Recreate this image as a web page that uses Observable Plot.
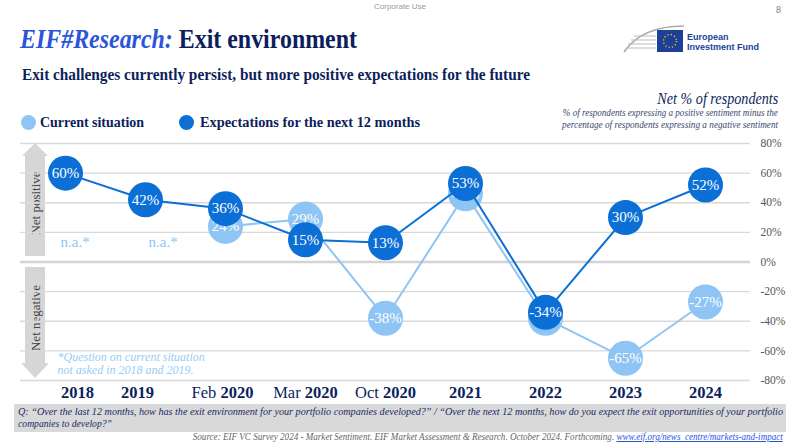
<!DOCTYPE html>
<html>
<head>
<meta charset="utf-8">
<script src="https://cdn.jsdelivr.net/npm/d3@7"></script>
<script src="https://cdn.jsdelivr.net/npm/@observablehq/plot@0.6"></script>
<style>
  html, body { margin: 0; padding: 0; background: #fff; }
  body { width: 800px; height: 448px; position: relative; overflow: hidden; font-family: "Liberation Serif"; color: #0c1f5c; }
  .abs { position: absolute; }
  .t { position: absolute; white-space: nowrap; display: inline-block; transform-origin: left top; }
  .r { transform-origin: right top; }
  #corp { left: 0; width: 800px; top: 2px; text-align: center; font-family: "Liberation Sans"; font-size: 8px; color: #999; }
  #page { left: 776px; top: 5px; font-size: 10px; line-height: 10px; color: #777; }
  #title { left: 20px; top: 26px; font-size: 27px; line-height: 27px; font-weight: bold; }
  #title .a { font-style: italic; color: #2b55d9; }
  #subtitle { left: 22px; top: 66px; font-size: 17.5px; line-height: 17.5px; font-weight: bold; }
  .leg { top: 114px; font-size: 15.5px; line-height: 15.5px; font-weight: bold; }
  .sw { position: absolute; width: 15px; height: 15px; border-radius: 50%; top: 115px; }
  #netTitle { right: 22px; top: 90px; font-size: 17px; line-height: 17px; font-style: italic; }
  .netSub { right: 22px; font-size: 10.5px; line-height: 10.5px; font-style: italic; color: #3a4670; }
  #chart { left: 0; top: 130px; }
  #qbg { left: 14px; top: 404px; width: 772px; height: 28px; background: #d9d9d9; }
  .q { left: 18px; font-size: 11px; line-height: 11px; font-style: italic; color: #1a2a66; }
  #source { right: 17px; top: 432px; font-size: 10px; line-height: 10px; font-style: italic; color: #666; }
  #source a { color: #2b55d9; text-decoration: underline; }
</style>
</head>
<body>
<div id="corp" class="abs">Corporate Use</div>
<div id="page" class="abs">8</div>
<span id="title" class="t" data-w="337"><span class="a">EIF#Research:</span> <span>Exit environment</span></span>
<span id="subtitle" class="t" data-w="508">Exit challenges currently persist, but more positive expectations for the future</span>
<svg class="abs" style="left:620px;top:22px" width="150" height="36" viewBox="0 0 150 36">
  <path d="M4 30 Q 22 4 64 4" fill="none" stroke="#aaa" stroke-width="1.6"/>
  <g stroke="#bbb" stroke-width="1">
    <line x1="14" y1="14" x2="36" y2="14"/><line x1="11" y1="18" x2="36" y2="18"/>
    <line x1="8" y1="22" x2="36" y2="22"/><line x1="6" y1="26" x2="36" y2="26"/>
  </g>
  <rect x="37" y="8" width="26" height="22" fill="#1c3f99"/>
  <circle cx="50" cy="19" r="6.5" fill="none" stroke="#f5d000" stroke-width="1.4" stroke-dasharray="1.2 2.2"/>
  <text x="67" y="18" font-family="Liberation Sans" font-size="9" font-weight="bold" fill="#1c3f99">European</text>
  <text x="67" y="28" font-family="Liberation Sans" font-size="9" font-weight="bold" fill="#1c3f99">Investment Fund</text>
</svg>
<span class="sw" style="left:21px;background:#8ec5f4"></span>
<span class="t leg" style="left:40px" data-w="104">Current situation</span>
<span class="sw" style="left:179px;background:#0b6fd6"></span>
<span class="t leg" style="left:200px" data-w="220">Expectations for the next 12 months</span>
<span id="netTitle" class="t r" data-w="121">Net % of respondents</span>
<span class="t r netSub" style="top:108px" data-w="215">% of respondents expressing a positive sentiment minus the</span>
<span class="t r netSub" style="top:119.5px" data-w="216">percentage of respondents expressing a negative sentiment</span>
<svg class="abs" style="left:18px;top:140px" width="36" height="242">
  <polygon points="17,3 30,16 27,16 27,116 7,116 7,16 4,16" fill="#d6d6d6"/>
  <polygon points="17,238 31,223 27,223 27,127 7,127 7,223 3,223" fill="#d6d6d6"/>
  <text transform="translate(21.5,63) rotate(-90)" text-anchor="middle" font-family="Liberation Serif" font-size="13" fill="#444">Net positive</text>
  <text transform="translate(21.5,178) rotate(-90)" text-anchor="middle" font-family="Liberation Serif" font-size="13" fill="#444">Net negative</text>
</svg>
<div id="chart" class="abs"></div>
<div id="qbg" class="abs"></div>
<span class="t q" style="top:405.5px" data-w="765">Q: “Over the last 12 months, how has the exit environment for your portfolio companies developed?” / “Over the next 12 months, how do you expect the exit opportunities of your portfolio</span>
<span class="t q" style="top:418px" data-w="94">companies to develop?”</span>
<span id="source" class="t r" data-w="590">Source: EIF VC Survey 2024 - Market Sentiment. EIF Market Assessment &amp; Research. October 2024. Forthcoming. <a>www.eif.org/news_centre/markets-and-impact</a></span>
<script>
const categories = ["2018", "2019", "Feb 2020", "Mar 2020", "Oct 2020", "2021", "2022", "2023", "2024"];
const expectations = [60, 42, 36, 15, 13, 53, -34, 30, 52];
const current = [null, null, 24, 29, -38, 46, -38, -65, -27];
const yTicks = [-80, -60, -40, -20, 0, 20, 40, 60, 80];
const naCategories = ["2018", "2019"];

const darkBlue = "#0b6fd6";
const lightBlue = "#8ec5f4";

const expData = categories.map((c, i) => ({cat: c, v: expectations[i]}));
const curData = categories.map((c, i) => ({cat: c, v: current[i]})).filter(d => d.v != null);
const fmt = v => v + "%";

// fit HTML text spans to measured widths
document.querySelectorAll(".t[data-w]").forEach(el => {
  const w = el.getBoundingClientRect().width;
  const target = +el.dataset.w;
  if (w > 0) el.style.transform = `scaleX(${target / w})`;
});

const chart = Plot.plot({
  width: 800,
  height: 278,
  marginTop: 13,
  marginBottom: 28,
  marginLeft: 20,
  marginRight: 50,
  style: {fontFamily: "Liberation Serif", background: "transparent"},
  x: {type: "point", domain: categories, padding: 0.53, label: null},
  y: {domain: [-80, 80], label: null},
  marks: [
    Plot.ruleY(yTicks.filter(t => t !== 0), {stroke: "#d9d9d9", strokeWidth: 1.3}),
    Plot.ruleY([0], {stroke: "#d3d3d3", strokeWidth: 2.5}),
    Plot.axisY({anchor: "right", ticks: yTicks, tickFormat: fmt, tickSize: 0, tickPadding: 10, fontSize: 11.5, fill: "#555"}),
    Plot.axisX({anchor: "bottom", tickSize: 0, tickPadding: 6, fontSize: 16.5, fill: "#0c1f5c"}),
    Plot.text(naCategories.slice(0, 1), {x: d => d, y: 13.5, text: () => "n.a.*", textAnchor: "start", dx: -5, fill: lightBlue, fontSize: 15}),
    Plot.text(naCategories.slice(1), {x: d => d, y: 13.5, text: () => "n.a.*", textAnchor: "start", dx: 3, fill: lightBlue, fontSize: 15}),
    Plot.text(["*Question on current situation\nnot asked in 2018 and 2019."], {x: () => "2018", y: -60.5, text: d => d, textAnchor: "start", lineAnchor: "top", dx: -8, fill: "#99cbf5", fontSize: 12, fontStyle: "italic", lineHeight: 1.1}),
    Plot.line(curData, {x: "cat", y: "v", stroke: lightBlue, strokeWidth: 2}),
    Plot.dot(curData, {x: "cat", y: "v", r: 17.5, fill: lightBlue}),
    Plot.text(curData, {x: "cat", y: "v", text: d => fmt(d.v), fill: "white", fontSize: 15}),
    Plot.line(expData, {x: "cat", y: "v", stroke: darkBlue, strokeWidth: 2}),
    Plot.dot(expData, {x: "cat", y: "v", r: 17.5, fill: darkBlue}),
    Plot.text(expData, {x: "cat", y: "v", text: d => fmt(d.v), fill: "white", fontSize: 15})
  ]
});
document.getElementById("chart").appendChild(chart);

// x tick labels: month prefix regular, year bold; small offsets as in the reference
const labelShift = {"2018": 12, "2019": -8, "Feb 2020": -3};
d3.select(chart).selectAll("g[aria-label='x-axis tick label'] text").each(function(d) {
  const t = d3.select(this);
  const s = t.text();
  const parts = s.split(" ");
  t.text(null);
  if (parts.length > 1) t.append("tspan").attr("font-weight", "normal").text(parts[0] + " ");
  t.append("tspan").attr("font-weight", "bold").text(parts[parts.length - 1]);
  if (labelShift[s]) t.attr("dx", labelShift[s]);
});
</script>
</body>
</html>
